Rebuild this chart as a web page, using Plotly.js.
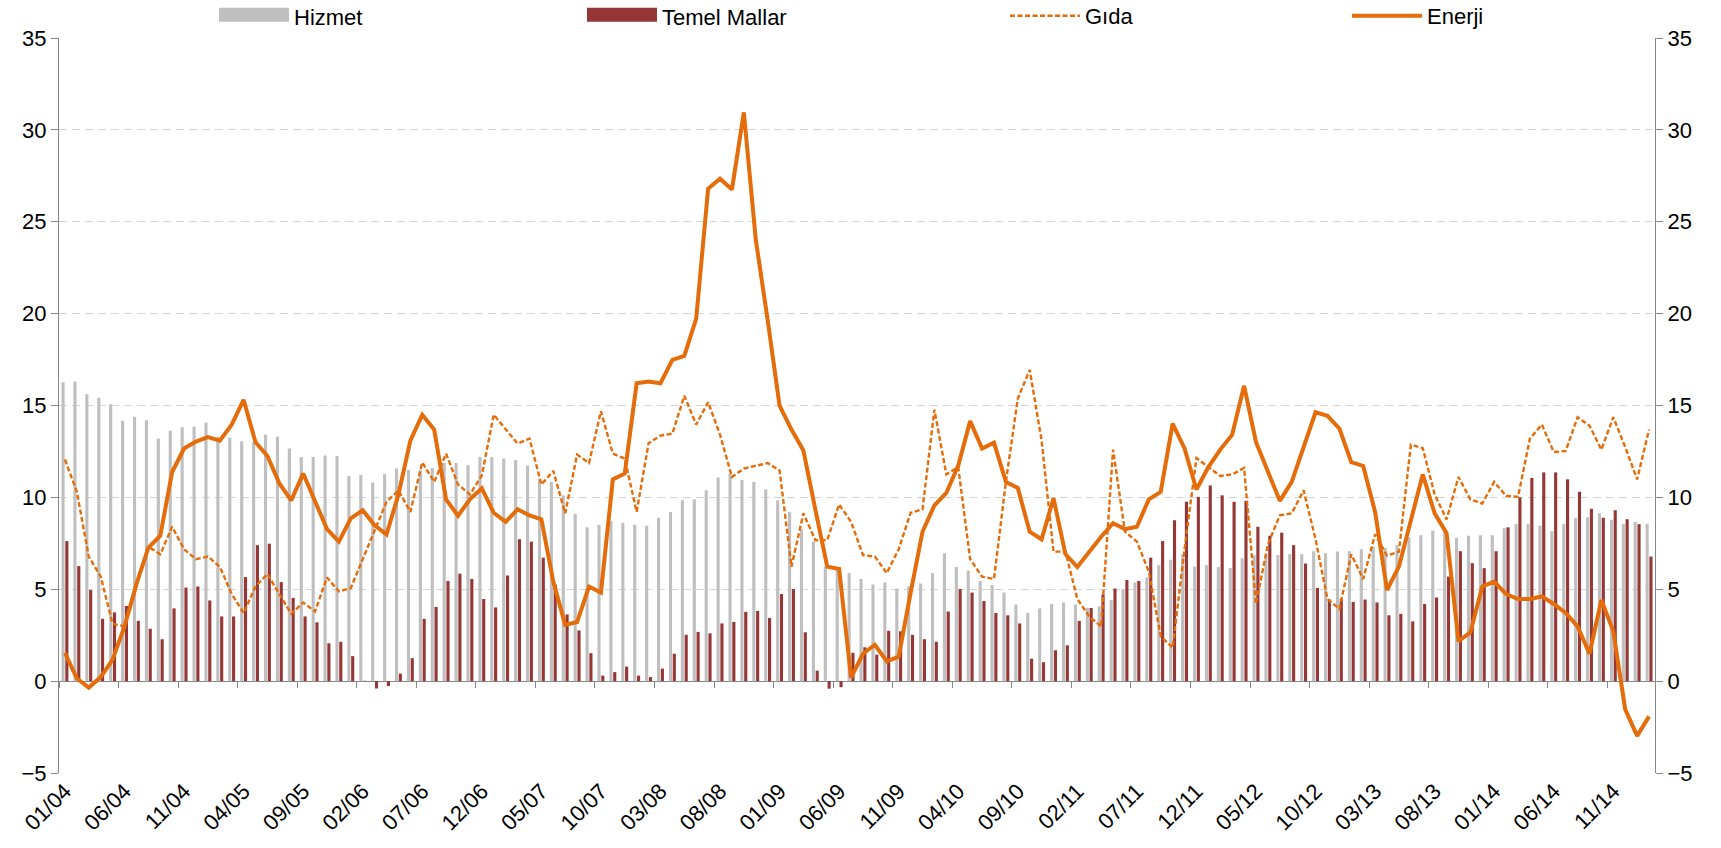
<!DOCTYPE html>
<html>
<head>
<meta charset="utf-8">
<script src="https://cdn.plot.ly/plotly-3.0.1.min.js"></script>
<style>html,body{margin:0;padding:0;background:#fff;}#chart{width:1721px;height:848px;}</style>
</head>
<body>
<div id="chart"></div>
<script>
// Months 01/04 .. 02/15
const months = [];
for (let y = 4; y <= 15; y++) {
  for (let m = 1; m <= 12; m++) {
    if (y === 15 && m > 2) break;
    months.push(String(m).padStart(2, '0') + '/' + String(y).padStart(2, '0'));
  }
}
const tickLabels = months.filter((_, i) => i % 5 === 0);

const hizmet = [
 16.26,16.31,15.61,15.42,15.07,14.17,14.39,14.2,13.2,13.63,
 13.82,13.85,14.07,13.3,13.25,13.06,13.0,13.41,13.31,12.66,
 12.2,12.2,12.28,12.25,11.17,11.22,10.81,11.27,11.57,11.49,
 11.5,11.6,11.87,11.87,11.76,12.2,12.2,12.11,12.03,11.73,
 10.98,10.84,10.11,9.11,8.37,8.51,8.7,8.62,8.51,8.46,
 8.89,9.21,9.84,9.89,10.38,11.08,11.3,10.95,10.84,10.43,
 9.84,9.21,8.27,7.59,6.23,6.1,5.88,5.56,5.26,5.37,
 5.04,5.15,5.31,5.88,6.96,6.21,6.02,5.45,5.23,4.82,
 4.17,3.71,3.96,4.2,4.28,4.17,4.0,4.07,4.42,5.01,
 5.37,5.64,6.31,6.61,6.9,6.23,6.31,6.21,6.15,6.69,
 6.86,6.9,6.86,6.91,6.91,7.07,6.96,7.05,7.07,7.18,
 7.32,7.24,7.4,7.83,7.94,8.18,8.13,7.8,7.91,7.94,
 7.94,8.32,8.56,8.56,8.46,8.16,8.56,8.89,8.92,9.13,
 8.78,8.56,8.67,8.56
];
const temelMallar = [
 7.62,6.26,4.96,3.39,3.74,4.09,3.28,2.85,2.28,3.96,
 5.09,5.15,4.39,3.52,3.52,5.66,7.4,7.48,5.39,4.53,
 3.52,3.2,2.06,2.14,1.36,0.02,-0.4,-0.27,0.41,1.25,
 3.39,4.04,5.45,5.85,5.56,4.47,4.01,5.75,7.72,7.59,
 6.72,5.26,3.63,2.76,1.52,0.3,0.49,0.79,0.3,0.22,
 0.68,1.49,2.52,2.68,2.6,3.14,3.22,3.77,3.82,3.44,
 4.74,5.01,2.66,0.57,-0.41,-0.33,1.54,1.84,1.44,2.74,
 2.71,2.52,2.28,2.14,3.79,5.01,4.82,4.36,3.71,3.58,
 3.14,1.22,1.03,1.68,1.95,3.28,3.98,4.72,5.04,5.5,
 5.45,6.72,7.62,8.75,9.76,10.03,10.65,10.11,9.76,9.81,
 8.4,7.91,8.08,7.4,6.4,5.07,4.44,4.47,4.31,4.44,
 4.28,3.58,3.66,3.25,4.2,4.55,5.69,7.07,6.42,6.15,
 7.07,8.37,10.0,11.06,11.36,11.36,10.98,10.3,9.38,8.89,
 9.3,8.81,8.54,6.78
];
const gida = [
 12.06,10.3,6.78,5.69,3.12,2.98,5.15,7.32,6.9,8.4,
 7.18,6.64,6.78,6.23,4.74,3.7,5.15,5.83,4.74,3.66,
 4.28,3.79,5.64,4.88,5.07,6.64,8.27,9.76,10.38,9.21,
 11.9,10.84,12.38,10.7,10.16,11.19,14.5,13.69,12.93,13.2,
 10.7,11.44,9.13,12.33,11.87,14.69,12.38,12.11,9.21,12.95,
 13.36,13.47,15.53,13.96,15.18,13.41,11.11,11.57,11.73,11.87,
 11.46,6.23,9.13,7.67,7.67,9.62,8.67,6.86,6.78,5.88,
 7.18,9.16,9.35,14.77,11.25,11.65,6.64,5.69,5.56,10.84,
 15.37,16.94,13.1,7.05,7.05,4.47,3.52,2.98,12.6,8.13,
 7.59,5.96,2.44,1.82,7.18,12.14,11.65,11.17,11.25,11.6,
 4.2,7.45,9.02,9.13,10.38,7.72,4.47,3.93,6.91,5.56,
 7.99,6.83,7.05,12.87,12.68,10.16,8.8,11.11,9.89,9.67,
 10.84,10.08,10.03,13.2,13.96,12.47,12.52,14.36,13.9,12.6,
 14.36,12.74,10.98,13.69
];
const enerji = [
 1.54,0.14,-0.35,0.22,1.17,2.98,5.28,7.26,7.91,11.38,
 12.66,13.04,13.28,13.09,13.96,15.31,13.0,12.25,10.76,9.84,
 11.3,9.76,8.27,7.59,8.86,9.3,8.48,7.99,10.16,13.09,
 14.5,13.69,9.89,9.0,9.89,10.49,9.16,8.67,9.35,9.02,
 8.81,5.42,3.06,3.22,5.15,4.82,10.98,11.3,16.21,16.31,
 16.21,17.48,17.7,19.73,26.8,27.34,26.75,30.95,24.04,19.65,
 14.99,13.69,12.55,9.35,6.23,6.1,0.19,1.49,1.98,1.08,
 1.33,4.8,8.13,9.57,10.24,11.73,14.15,12.66,12.98,10.84,
 10.51,8.13,7.72,9.95,6.91,6.21,7.05,7.86,8.59,8.27,
 8.4,9.89,10.3,14.01,12.66,10.43,11.65,12.6,13.41,16.07,
 13.0,11.38,9.81,10.84,12.66,14.63,14.44,13.74,11.92,11.71,
 9.21,4.96,6.23,8.67,11.25,9.13,8.05,2.17,2.66,5.15,
 5.42,4.74,4.47,4.47,4.61,4.2,3.71,2.98,1.49,4.42,
 2.71,-1.54,-2.98,-1.92
];
const seriesNames = ['Hizmet', 'Temel Mallar', 'Gıda', 'Enerji'];

const GREY = '#BFBFBF', RED = '#953735', ORANGE = '#E46C0A', AXIS = '#868686';
const FONT = 'Liberation Sans, Arial, sans-serif';
const FS = 22;
const empty = months.map(() => null);
const BLANK = '\u00a0';

const traces = [
  {type:'bar', x:months, y:hizmet, name:seriesNames[0], marker:{color:GREY}, showlegend:false, hoverinfo:'x+y'},
  {type:'bar', x:months, y:temelMallar, name:seriesNames[1], marker:{color:RED}, showlegend:false, hoverinfo:'x+y'},
  {type:'scatter', mode:'lines', x:months, y:gida, name:seriesNames[2], line:{color:ORANGE, width:2.4, dash:'5px,2.5px'}, legend:'legend3'},
  {type:'scatter', mode:'lines', x:months, y:enerji, name:seriesNames[3], line:{color:ORANGE, width:4}, legend:'legend4'},
  // legend swatches for the bar series (two stacked swatches give the taller Excel-style box)
  {type:'scatter', mode:'lines', x:[months[0]], y:[null], name:seriesNames[0], line:{color:GREY, width:10}, legend:'legend', hoverinfo:'skip'},
  {type:'scatter', mode:'lines', x:[months[0]], y:[null], name:seriesNames[1], line:{color:RED, width:10}, legend:'legend2', hoverinfo:'skip'},
  {type:'scatter', mode:'lines', x:[months[0]], y:[null], name:BLANK, line:{color:GREY, width:10}, legend:'legend5', hoverinfo:'skip'},
  {type:'scatter', mode:'lines', x:[months[0]], y:[null], name:BLANK, line:{color:RED, width:10}, legend:'legend6', hoverinfo:'skip'},
  // helper traces for secondary axes (tick marks at zero line, right axis)
  {type:'scatter', mode:'lines', x:months, y:empty, xaxis:'x2', yaxis:'y', showlegend:false, hoverinfo:'skip'},
  {type:'scatter', mode:'lines', x:months, y:empty, xaxis:'x', yaxis:'y2', showlegend:false, hoverinfo:'skip'}
];

function leg(xpx, ypx) {
  return {x: xpx/1721, xref:'container', xanchor:'left', y: 1 - ypx/848, yref:'container', yanchor:'middle',
    orientation:'h', bgcolor:'rgba(0,0,0,0)', borderwidth:0, itemwidth:70,
    font:{family:FONT, size:FS, color:'#000'}};
}

const yCommon = {range:[-5,35], tickmode:'linear', tick0:0, dtick:5, showline:true, linecolor:AXIS, linewidth:1,
  ticks:'outside', ticklen:7, tickcolor:AXIS, tickfont:{family:FONT, size:FS, color:'#000'}, fixedrange:true};

const layout = {
  width:1721, height:848,
  margin:{l:59, r:66, t:27, b:75, pad:0},
  paper_bgcolor:'#fff', plot_bgcolor:'#fff',
  barmode:'group', bargap:0.36, bargroupgap:0.18,
  font:{family:FONT, size:FS, color:'#000'},
  xaxis:{type:'category', categoryarray:months, range:[-0.5, months.length-0.5], tickmode:'array', tickvals:tickLabels, ticktext:tickLabels,
    tickangle:-45, ticks:'', showline:false, showgrid:false, zeroline:false, tickfont:{family:FONT, size:FS, color:'#000'}, automargin:false},
  xaxis2:{type:'category', categoryarray:months, overlaying:'x', anchor:'free', position:0.125, range:[-0.5, months.length-0.5],
    tickmode:'linear', tick0:0, dtick:5, tickson:'boundaries', ticks:'outside', ticklen:6, tickcolor:AXIS,
    showticklabels:false, showline:false, showgrid:false, zeroline:false},
  yaxis:Object.assign({}, yCommon, {showgrid:true, gridcolor:'#D4D4D4', gridwidth:1, griddash:'8px,5px',
    zeroline:true, zerolinecolor:AXIS, zerolinewidth:1}),
  yaxis2:Object.assign({}, yCommon, {overlaying:'y', side:'right', showgrid:false, zeroline:false}),
  legend:leg(214, 17), legend2:leg(582, 17),
  legend5:leg(214, 13), legend6:leg(582, 13),
  legend3:leg(1005, 16), legend4:leg(1347, 16),
  showlegend:true
};

Plotly.newPlot('chart', traces, layout, {displayModeBar:false, staticPlot:true});
</script>
</body>
</html>
